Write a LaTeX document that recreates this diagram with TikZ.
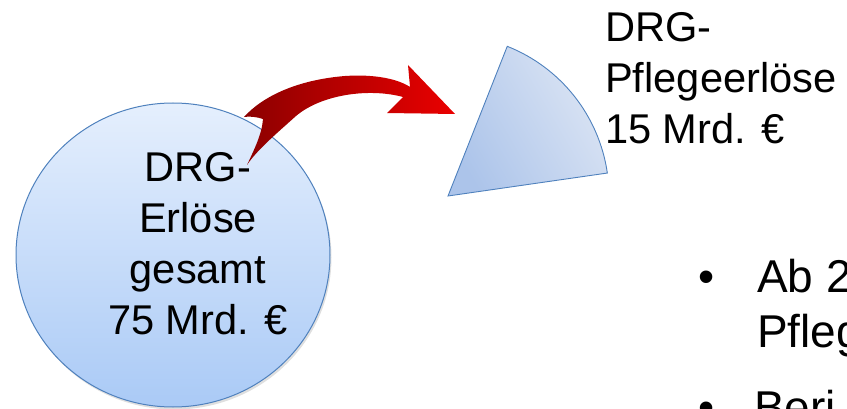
\documentclass[tikz,border=0pt]{standalone}
\usepackage{fontspec}
\setmainfont{Liberation Sans}
\usepackage{tikz}
\usetikzlibrary{shapes.geometric, shadows, positioning}
\definecolor{circTop}{RGB}{229,239,253}
\definecolor{circBottom}{RGB}{170,202,246}
\definecolor{outline}{RGB}{79,129,189}
\definecolor{sliceDark}{RGB}{172,196,234}
\definecolor{sliceLight}{RGB}{220,229,244}
\definecolor{arrowDark}{RGB}{140,0,0}
\definecolor{arrowLight}{RGB}{234,0,0}
\tikzstyle{bigtext} = [font=\fontsize{41.6}{51}\selectfont, inner sep=0pt, align=left]
\tikzstyle{listtext} = [font=\fontsize{46}{55}\selectfont, inner sep=0pt, align=left]
\tikzset{
	totalcircle/.style = {ellipse, draw=outline, line width=1pt,
		top color=circTop, bottom color=circBottom,
		minimum width=314pt, minimum height=304pt,
		drop shadow={shadow xshift=1.5pt, shadow yshift=-2.5pt, opacity=0.25}
	},
	slice/.style = {draw=outline, line width=0.9pt,
		left color=sliceDark, right color=sliceLight, shading angle=120},
	bendarrow/.style = {left color=arrowDark, right color=arrowLight}
}

\begin{document}
\begin{tikzpicture}[x=1pt, y=-1pt]
\useasboundingbox (0,0) rectangle (847,409);
\clip (0,0) rectangle (847,409);
%----------------------------------------------------------------------------
% Total revenue circle
\node (totalRevenue) [totalcircle] at (173,255) {};

%----------------------------------------------------------------------------
% Care slice (one fifth)
\coordinate (apex) at (448,196);
\path [slice] (apex) -- ++(-68.4:161) arc[start angle=-68.4, end angle=-8.2, radius=161] -- cycle;

%----------------------------------------------------------------------------
% Curved red arrow from circle to slice
\path [bendarrow] (244,117) .. controls (262,97) and (296,80) .. (345,76)
	.. controls (375,74) and (398,79) .. (410,87)
	-- (408,65) -- (455,114) -- (387,113) -- (403,97)
	.. controls (370,88) and (322,94) .. (296,116)
	.. controls (276,134) and (257,150) .. (247,165)
	.. controls (254,150) and (262,134) .. (263,119)
	.. controls (257,117) and (250,116) .. (244,117) -- cycle;

%----------------------------------------------------------------------------
% Labels
\node (totalLabel) [bigtext, align=center] at (198,244) {DRG-\\Erlöse\\gesamt\\75 Mrd. €};
\node (careLabel) [bigtext, anchor=north west] at (605,12.7) {DRG-\\Pflegeerlöse\\15 Mrd. €};

%----------------------------------------------------------------------------
% Bullet list (cut off at the page edge)
\node (itemOne) [listtext, anchor=north west] at (757,259) {Ab 2\\Pfleg};
\node (itemTwo) [listtext, below=33pt of itemOne.south west, anchor=north west, xshift=-3pt] {Beri};
\node (dotOne) [listtext, anchor=base] at (707,292) {\textbullet};
\node (dotTwo) [listtext, anchor=base] at (707,423) {\textbullet};

\end{tikzpicture}
\end{document}
